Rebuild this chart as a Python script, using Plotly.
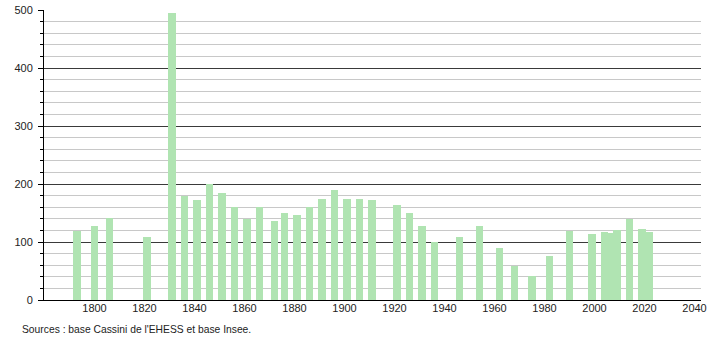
import plotly.graph_objects as go

years = [1793, 1800, 1806, 1821, 1831, 1836, 1841, 1846, 1851, 1856, 1861, 1866,
         1872, 1876, 1881, 1886, 1891, 1896, 1901, 1906, 1911, 1921, 1926, 1931,
         1936, 1946, 1954, 1962, 1968, 1975, 1982, 1990, 1999, 2004, 2007, 2009,
         2014, 2019, 2022]
population = [119, 128, 142, 109, 495, 180, 173, 200, 185, 160, 140, 161,
              137, 150, 147, 161, 175, 190, 175, 175, 173, 164, 150, 128,
              100, 109, 128, 90, 59, 42, 76, 119, 114, 118, 116, 121,
              139, 123, 117]
x_ticks = [1800, 1820, 1840, 1860, 1880, 1900, 1920, 1940, 1960, 1980, 2000, 2020, 2040]
y_ticks = [0, 100, 200, 300, 400, 500]
source_text = "Sources : base Cassini de l'EHESS et base Insee."

fig = go.Figure()
fig.add_trace(go.Bar(
    x=years, y=population, width=3.1,
    marker=dict(color="rgb(176,228,178)", line=dict(width=0)),
    hoverinfo="x+y",
))

font = dict(family="Liberation Sans, Arial, sans-serif", size=11, color="#222")
src_font = dict(family="Liberation Sans, Arial, sans-serif", size=10.3, color="#222")

fig.update_layout(
    width=710, height=340,
    margin=dict(l=44, r=9, t=10, b=40, autoexpand=False),
    paper_bgcolor="white", plot_bgcolor="white",
    showlegend=False,
    font=font,
    bargap=0,
    xaxis=dict(
        range=[1779.8, 2042.6], automargin=False,
        tickmode="array", tickvals=x_ticks, ticktext=[str(v) for v in x_ticks],
        showgrid=False, zeroline=False,
        showline=True, linecolor="black", linewidth=1,
        ticks="", tickfont=font, ticklabelstandoff=-2,
    ),
    yaxis=dict(
        range=[0, 500], automargin=False,
        tickmode="array", tickvals=y_ticks,
        showgrid=True, gridcolor="#3a3a3a", gridwidth=1,
        zeroline=False,
        showline=True, linecolor="black", linewidth=1,
        ticks="outside", ticklen=5, tickcolor="black", tickwidth=1,
        ticklabelstandoff=3,
        tickfont=font,
        minor=dict(dtick=20, showgrid=True, gridcolor="#c8c8c8", gridwidth=1,
                   ticks="outside", ticklen=3, tickcolor="black"),
    ),
    annotations=[dict(
        text=source_text, xref="paper", yref="paper",
        x=-0.036, y=-0.1, xanchor="left", yanchor="middle",
        showarrow=False, font=src_font,
    )],
)

fig.write_html("out.html")
